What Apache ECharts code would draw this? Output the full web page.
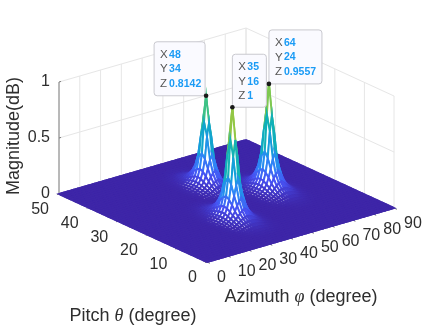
<!DOCTYPE html>
<html>
<head>
<meta charset="utf-8">
<script src="https://cdn.jsdelivr.net/npm/echarts@6/dist/echarts.min.js"></script>
<style>
  html, body { margin: 0; padding: 0; background: #fff; }
</style>
</head>
<body>
<div id="main" style="width: 436px;height:327px;"></div>
<script>
// axis ticks
const azimuthTicks = [0, 10, 20, 30, 40, 50, 60, 70, 80, 90];
const pitchTicks = [0, 10, 20, 30, 40, 50];
const magnitudeTicks = [0, 0.5, 1];

// the three data tips
const tipX = [48, 35, 64];
const tipY = [34, 16, 24];
const tipZ = [0.8142, 1, 0.9557];

// height of one peak, row = |dy|, column = |dx|, in degrees
const lobe = [
  [1, .72, .38, .22, .135, .088, .058, .04, .026, .015, .008, .004, .002],
  [.72, .57, .33, .2, .128, .085, .056, .039, .025, .015, .008, .004, .002],
  [.38, .33, .24, .165, .108, .075, .052, .036, .023, .013, .007, .0035, .0015],
  [.22, .2, .165, .12, .088, .063, .045, .032, .02, .011, .006, .003, .001],
  [.135, .128, .108, .088, .068, .05, .037, .025, .016, .009, .005, .0025, .001],
  [.088, .085, .075, .063, .05, .039, .029, .019, .012, .007, .004, .002, .0005],
  [.058, .056, .052, .045, .037, .029, .02, .014, .008, .005, .0025, .001, 0],
  [.04, .039, .036, .032, .025, .019, .014, .009, .006, .003, .0015, .0005, 0],
  [.026, .025, .023, .02, .016, .012, .008, .006, .0035, .002, .001, 0, 0],
  [.015, .015, .013, .011, .009, .007, .005, .003, .002, .001, .0005, 0, 0],
  [.008, .008, .007, .006, .005, .004, .0025, .0015, .001, .0005, 0, 0, 0],
  [.004, .004, .0035, .003, .0025, .002, .001, .0005, 0, 0, 0, 0, 0],
  [.002, .002, .0015, .001, .001, .0005, 0, 0, 0, 0, 0, 0, 0]
];

const parula = ['#3e26a8', '#4852f4', '#2e87f7', '#149edb', '#10b1b8', '#25be9f', '#66c85f', '#b0c734', '#f0bb3a', '#fbd327', '#f9fb0e'];

// where each tip box sits, measured from its black dot
const tipBoxes = [
  { left: -52, top: -54, width: 51, height: 54 },
  { left: 0, top: -53, width: 34, height: 53 },
  { left: 0, top: -54, width: 53, height: 54 }
];

const font = 'Liberation Sans';
const textColor = '#2e2e2e';

// fixed view of the 3d box on the page
function project(x, y, z) {
  return [207 + 2.078 * x - 2.96 * y, 262 - 0.6 * x - 1.36 * y - 112 * z];
}

function height(x, y) {
  let top = 0;
  for (let i = 0; i < tipX.length; i++) {
    const dx = Math.abs(x - tipX[i]);
    const dy = Math.abs(y - tipY[i]);
    if (dx < 13 && dy < 13) {
      top = Math.max(top, tipZ[i] * lobe[dy][dx]);
    }
  }
  return top;
}

// back cells first, so the front ones cover them
const cells = [];
for (let y = 49; y >= 0; y--) {
  for (let x = 89; x >= 0; x--) {
    cells.push([x, y]);
  }
}

const wallLines = [];
azimuthTicks.forEach(t => wallLines.push([t, 50, 0, t, 50, 1]));
pitchTicks.forEach(t => wallLines.push([90, t, 0, 90, t, 1]));
magnitudeTicks.forEach(t => {
  wallLines.push([0, 50, t, 90, 50, t]);
  wallLines.push([90, 50, t, 90, 0, t]);
});

const axisLines = [[0, 50, 0, 0, 50, 1], [0, 50, 0, 0, 0, 0], [0, 0, 0, 90, 0, 0]];
azimuthTicks.forEach(t => axisLines.push([t, 0, 0, t, -1, 0]));
pitchTicks.forEach(t => axisLines.push([0, t, 0, -1, t, 0]));
magnitudeTicks.forEach(t => axisLines.push([0, 50, t, 1, 50, t]));

const tickLabels = [];
azimuthTicks.forEach(t => tickLabels.push({ value: [t, 0, 0], name: String(t), dx: 10, dy: 16, align: 'left' }));
pitchTicks.forEach(t => tickLabels.push({ value: [0, t, 0], name: String(t), dx: -10, dy: 16, align: 'right' }));
magnitudeTicks.forEach(t => tickLabels.push({ value: [0, 50, t], name: String(t), dx: -9, dy: 0, align: 'right' }));

function renderLine(color) {
  return function (params, api) {
    const a = api.coord(project(api.value(0), api.value(1), api.value(2)));
    const b = api.coord(project(api.value(3), api.value(4), api.value(5)));
    return {
      type: 'line',
      shape: { x1: a[0], y1: a[1], x2: b[0], y2: b[1] },
      style: { stroke: color, lineWidth: 1 }
    };
  };
}

function renderCell(params, api) {
  const x = api.value(0);
  const y = api.value(1);
  const corners = [[x, y], [x + 1, y], [x + 1, y + 1], [x, y + 1]];
  let sum = 0;
  let low = 1;
  const points = corners.map(c => {
    const z = height(c[0], c[1]);
    sum += z;
    low = Math.min(low, z);
    return api.coord(project(c[0], c[1], z));
  });
  // colour leans to the lowest corner, like the flat edges of a matlab mesh
  const color = echarts.color.lerp((sum / 4 + low) / 2, parula);
  return {
    type: 'polygon',
    shape: { points: points },
    style: { fill: sum < 0.004 ? color : '#fff', stroke: color, lineWidth: 1.9 }
  };
}

function renderTickLabel(params, api) {
  const item = tickLabels[params.dataIndex];
  const p = api.coord(project(api.value(0), api.value(1), api.value(2)));
  return {
    type: 'text',
    style: {
      x: p[0] + item.dx,
      y: p[1] + item.dy,
      text: item.name,
      align: item.align,
      verticalAlign: 'middle',
      font: '16px "' + font + '"',
      fill: textColor
    }
  };
}

function renderTip(params, api) {
  const i = params.dataIndex;
  const box = tipBoxes[i];
  const p = api.coord(project(api.value(0), api.value(1), api.value(2)));
  const left = p[0] + box.left;
  const top = p[1] + box.top;
  const children = [{
    type: 'rect',
    shape: { x: left, y: top, width: box.width, height: box.height, r: 3 },
    style: { fill: '#fafaff', stroke: '#c9c9cf', lineWidth: 1 }
  }];
  ['X', 'Y', 'Z'].forEach((name, row) => {
    children.push({
      type: 'text',
      style: { x: left + 6, y: top + 13 + row * 14.5, text: name, verticalAlign: 'middle', font: '11.5px "' + font + '"', fill: '#555' }
    });
    children.push({
      type: 'text',
      style: { x: left + 15, y: top + 13 + row * 14.5, text: String(api.value(row)), verticalAlign: 'middle', font: 'bold 10.5px "' + font + '"', fill: '#1a9bf5' }
    });
  });
  children.push({
    type: 'circle',
    shape: { cx: p[0], cy: p[1], r: 2.3 },
    style: { fill: '#1a1a1a' }
  });
  return { type: 'group', children: children };
}

const titleStyle = {
  font: '18px "' + font + '"',
  fill: textColor,
  align: 'center',
  verticalAlign: 'middle',
  rich: {
    i: { fontFamily: 'Liberation Serif', fontStyle: 'italic', fontSize: 18, fill: textColor }
  }
};

const option = {
  animation: false,
  backgroundColor: '#fff',
  grid: { left: 0, right: 0, top: 0, bottom: 0 },
  xAxis: { type: 'value', min: 0, max: 436, show: false },
  yAxis: { type: 'value', min: 0, max: 327, inverse: true, show: false },
  graphic: [
    { type: 'text', x: 133, y: 316, style: Object.assign({ text: 'Pitch {i|θ} (degree)' }, titleStyle) },
    { type: 'text', x: 301, y: 297, style: Object.assign({ text: 'Azimuth {i|φ} (degree)' }, titleStyle) },
    { type: 'text', x: 14, y: 136, rotation: Math.PI / 2, style: Object.assign({ text: 'Magnitude(dB)' }, titleStyle) }
  ],
  series: [
    { name: 'walls', type: 'custom', silent: true, clip: false, renderItem: renderLine('#e6e6e6'), data: wallLines },
    { name: 'axes', type: 'custom', silent: true, clip: false, renderItem: renderLine('#7f7f7f'), data: axisLines },
    { name: 'surface', type: 'custom', silent: true, clip: false, progressive: 0, renderItem: renderCell, data: cells },
    { name: 'ticks', type: 'custom', silent: true, clip: false, renderItem: renderTickLabel, data: tickLabels },
    { name: 'tips', type: 'custom', silent: true, clip: false, renderItem: renderTip, data: tipX.map((x, i) => [x, tipY[i], tipZ[i]]) }
  ]
};

const myChart = echarts.init(document.getElementById('main'));
myChart.setOption(option);
</script>
</body>
</html>
